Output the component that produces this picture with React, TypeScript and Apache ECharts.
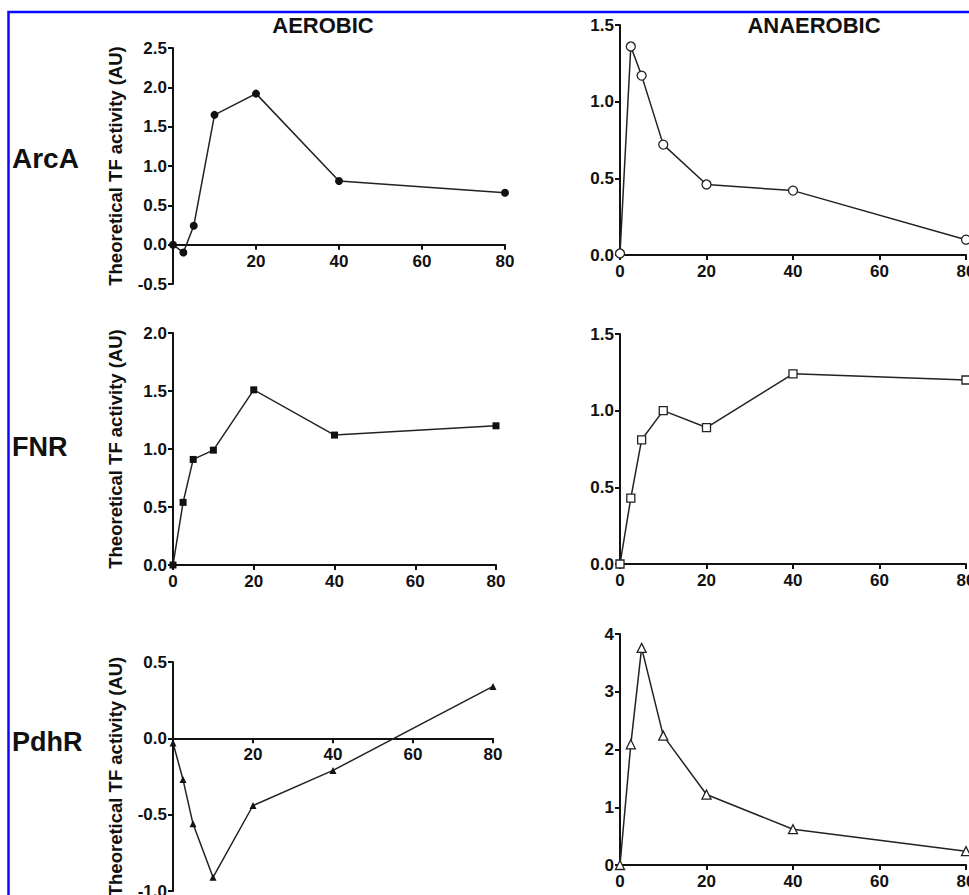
import React, { useEffect, useRef } from "react";
import * as echarts from "echarts";

const xVals = [0, 2.5, 5, 10, 20, 40, 80];
const arcaAerobic = [0, -0.1, 0.24, 1.65, 1.92, 0.81, 0.66];
const arcaAnaerobic = [0.01, 1.36, 1.17, 0.72, 0.46, 0.42, 0.1];
const fnrAerobic = [0, 0.54, 0.91, 0.99, 1.51, 1.12, 1.2];
const fnrAnaerobic = [0, 0.43, 0.81, 1.0, 0.89, 1.24, 1.2];
const pdhrAerobic = [-0.03, -0.27, -0.56, -0.91, -0.44, -0.21, 0.34];
const pdhrAnaerobic = [0, 2.09, 3.76, 2.24, 1.22, 0.62, 0.24];

const columnTitles = ["AEROBIC", "ANAEROBIC"];
const rowLabels = ["ArcA", "FNR", "PdhR"];
const yAxisTitle = "Theoretical TF activity (AU)";

const FONT = "Liberation Sans, Arial, sans-serif";
const INK = "#111";

type Panel = {
  data: number[];
  grid: { left: number; top: number; width: number; height: number };
  yMin: number;
  yMax: number;
  yInterval: number;
  decimals: number;
  symbol: string;
  size: number;
  filled: boolean;
  showName: boolean;
  hideZeroX: boolean;
};

const panels: Panel[] = [
  { data: arcaAerobic, grid: { left: 173, top: 48, width: 332, height: 236 }, yMin: -0.5, yMax: 2.5, yInterval: 0.5, decimals: 1, symbol: "circle", size: 8, filled: true, showName: true, hideZeroX: true },
  { data: arcaAnaerobic, grid: { left: 620, top: 25, width: 346, height: 230 }, yMin: 0, yMax: 1.5, yInterval: 0.5, decimals: 1, symbol: "circle", size: 9, filled: false, showName: false, hideZeroX: false },
  { data: fnrAerobic, grid: { left: 173, top: 333, width: 323, height: 232 }, yMin: 0, yMax: 2, yInterval: 0.5, decimals: 1, symbol: "rect", size: 7, filled: true, showName: true, hideZeroX: false },
  { data: fnrAnaerobic, grid: { left: 620, top: 334, width: 346, height: 230 }, yMin: 0, yMax: 1.5, yInterval: 0.5, decimals: 1, symbol: "rect", size: 8, filled: false, showName: false, hideZeroX: false },
  { data: pdhrAerobic, grid: { left: 173, top: 662, width: 320, height: 229 }, yMin: -1, yMax: 0.5, yInterval: 0.5, decimals: 1, symbol: "triangle", size: 7, filled: true, showName: true, hideZeroX: true },
  { data: pdhrAnaerobic, grid: { left: 620, top: 634, width: 346, height: 231 }, yMin: 0, yMax: 4, yInterval: 1, decimals: 0, symbol: "triangle", size: 9, filled: false, showName: false, hideZeroX: false },
];

export default function App() {
  const ref = useRef<HTMLDivElement>(null);
  useEffect(() => {
    if (!ref.current) return;
    const chart = echarts.init(ref.current, undefined, { renderer: "svg" });
    const labelStyle = { fontFamily: FONT, fontWeight: "bold" as const, fontSize: 17, color: INK };
    const axisLine = { lineStyle: { color: INK, width: 2 } };
    const axisTick = { lineStyle: { color: INK, width: 2 }, length: 5 };

    const option: any = {
      animation: false,
      backgroundColor: "#fff",
      grid: panels.map((p) => ({ ...p.grid, containLabel: false, outerBoundsMode: "none" })),
      xAxis: panels.map((p, i) => {
        // shift the x axis up to the y = 0 line when the y range goes below zero
        const zeroOffset = p.yMin < 0 ? -(p.grid.height * (0 - p.yMin)) / (p.yMax - p.yMin) : 0;
        return {
          type: "value",
          gridIndex: i,
          position: "bottom",
          offset: zeroOffset,
          min: 0,
          max: 80,
          interval: 20,
          splitLine: { show: false },
          axisLine: { ...axisLine, onZero: false },
          axisTick,
          axisLabel: {
            ...labelStyle,
            margin: 8,
            formatter: (v: number) => (p.hideZeroX && v === 0 ? "" : String(v)),
          },
        };
      }),
      yAxis: panels.map((p, i) => ({
        type: "value",
        gridIndex: i,
        min: p.yMin,
        max: p.yMax,
        interval: p.yInterval,
        splitLine: { show: false },
        axisLine: { ...axisLine, onZero: false },
        axisTick,
        axisLabel: {
          ...labelStyle,
          margin: 6,
          formatter: (v: number) => v.toFixed(p.decimals),
        },
        name: p.showName ? yAxisTitle : "",
        nameLocation: "middle",
        nameGap: 48,
        nameTextStyle: { fontFamily: FONT, fontWeight: "bold", fontSize: 18.5, color: INK },
      })),
      series: panels.map((p, i) => ({
        type: "line",
        xAxisIndex: i,
        yAxisIndex: i,
        clip: false,
        data: xVals.map((x, j) => [x, p.data[j]]),
        symbol: p.symbol,
        symbolSize: p.size,
        showAllSymbol: true,
        lineStyle: { color: "#222", width: 1.5 },
        itemStyle: { color: p.filled ? "#111" : "#fff", borderColor: "#222", borderWidth: p.filled ? 0 : 1.3 },
      })),
      graphic: [
        {
          type: "rect",
          shape: { x: 8.5, y: 12, width: 990, height: 920 },
          style: { fill: "none", stroke: "#0a0aff", lineWidth: 2.5 },
          silent: true,
        },
        {
          type: "text",
          x: 323,
          y: 25,
          style: { text: columnTitles[0], font: `bold 22px ${FONT}`, fill: INK, textAlign: "center", textVerticalAlign: "middle" },
        },
        {
          type: "text",
          x: 814,
          y: 25,
          style: { text: columnTitles[1], font: `bold 22px ${FONT}`, fill: INK, textAlign: "center", textVerticalAlign: "middle" },
        },
        {
          type: "text",
          x: 12,
          y: 158,
          style: { text: rowLabels[0], font: `bold 28px ${FONT}`, fill: INK, textAlign: "left", textVerticalAlign: "middle" },
        },
        {
          type: "text",
          x: 12,
          y: 447,
          style: { text: rowLabels[1], font: `bold 27px ${FONT}`, fill: INK, textAlign: "left", textVerticalAlign: "middle" },
        },
        {
          type: "text",
          x: 12,
          y: 742,
          style: { text: rowLabels[2], font: `bold 27px ${FONT}`, fill: INK, textAlign: "left", textVerticalAlign: "middle" },
        },
      ],
    };
    chart.setOption(option);
    return () => chart.dispose();
  }, []);
  return <div ref={ref} style={{ position: "absolute", left: 0, top: 0, width: 969, height: 895 }} />;
}
